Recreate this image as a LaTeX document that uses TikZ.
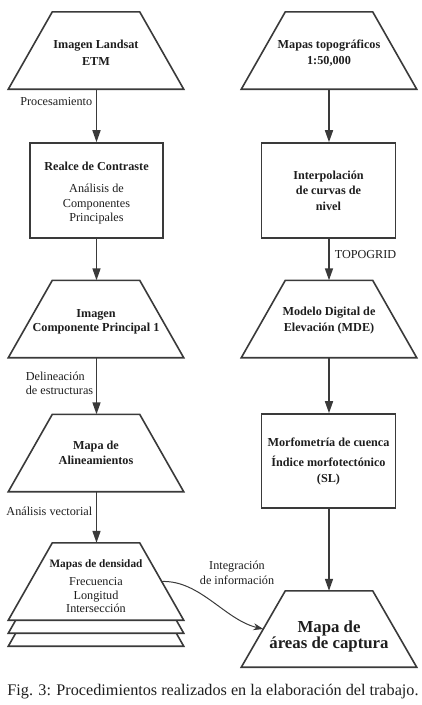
\documentclass[tikz,border=0pt]{standalone}
\usepackage{fontspec}
\setmainfont{Liberation Serif}
\usetikzlibrary{arrows.meta,calc,backgrounds}
\definecolor{ln}{HTML}{3A3A3A}
\definecolor{tx}{HTML}{1E1E1E}
\newcommand\nodefont{\fontsize{12.2pt}{15.5pt}\selectfont}
\newcommand\drawtrap[2][]{\draw[shapeline,#1] ($(#2.north west)+(44,0)$) -- ($(#2.north east)+(-44,0)$) -- (#2.south east) -- (#2.south west) -- cycle;}
\begin{document}
\begin{tikzpicture}[x=1pt,y=-1pt,
  shapeline/.style={draw=ln, line width=1.6pt, line join=miter, fill=white},
  trapnode/.style={minimum width=175pt, minimum height=77pt, inner sep=0pt},
  ttext/.style={inner sep=0pt, align=center, text=tx, font=\nodefont\bfseries},
  boxnode/.style={draw=ln, line width=1.6pt, minimum width=133pt, minimum height=95pt, inner sep=0pt, align=center, text=tx, font=\nodefont\bfseries},
  flow/.style={draw=ln, line width=1.6pt, -{Triangle[length=12pt,width=8pt]}},
  lbl/.style={text=tx, font=\nodefont, inner sep=0pt},
  curvelink/.style={draw=ln, line width=1pt, -{Stealth[length=10pt,width=7pt]}}
]
\useasboundingbox (0,0) rectangle (422,705);

% left column shapes
\node[trapnode] (l1) at (96,50.5) {};
\node[boxnode] (b1) at (96.5,190.5) {};
\node[trapnode] (l2) at (96,319) {};
\node[trapnode] (l3) at (96,453) {};
\node[trapnode] (d3) at (96,607.5) {};
\node[trapnode] (d2) at (96,594.5) {};
\node[trapnode] (d1) at (96,581.5) {};

% right column shapes
\node[trapnode] (r1) at (329,50.5) {};
\node[boxnode, minimum width=134pt] (b2) at (328.5,190.5) {Interpolaci\'on\\de curvas de\\nivel};
\node[trapnode] (r2) at (329,319) {};
\node[boxnode, minimum width=134pt, minimum height=94pt] (b3) at (328.5,461) {Morfometr\'ia de cuenca\\[5pt]\'Indice morfotect\'onico\\(SL)};
\node[trapnode, minimum height=76pt] (r3) at (329,629) {};

\begin{scope}[on background layer]
  \drawtrap{l1}
  \drawtrap{l2}
  \drawtrap{l3}
  \drawtrap{d3}
  \drawtrap{d2}
  \drawtrap{d1}
  \drawtrap{r1}
  \drawtrap{r2}
  \drawtrap{r3}
\end{scope}

% texts of the shapes
\node[ttext] (l1t) at (96,53) {Imagen Landsat\\[1.5pt]ETM};
\node[ttext, font=\fontsize{12.2pt}{14.5pt}\selectfont] (b1t) at (96.5,193.5) {\textbf{Realce de Contraste}\\[7.5pt]An\'alisis de\\Componentes\\Principales};
\node[ttext] (l2t) at (96,322) {Imagen\\[-2pt]Componente Principal 1};
\node[ttext] (l3t) at (96,453) {Mapa de\\Alineamientos};
\node[ttext, font=\fontsize{12.2pt}{13.5pt}\selectfont] (d1t) at (96,586.5) {{\fontsize{11.3pt}{13.5pt}\selectfont\bfseries Mapas de densidad}\\[4.5pt]Frecuencia\\Longitud\\Intersecci\'on};
\node[ttext] (r1t) at (329,53) {Mapas topogr\'aficos\\1:50,000};
\node[ttext] (r2t) at (329,320.5) {Modelo Digital de\\Elevaci\'on (MDE)};
\node[ttext, font=\fontsize{16.8pt}{16pt}\selectfont\bfseries] (r3t) at (329,636) {Mapa de\\\'areas de captura};

% connectors
\draw[flow] (l1.south -| b1.north) -- node[lbl, pos=0.24, left=3.5pt] {Procesamiento} (b1.north);
\draw[flow] (b1.south) -- (b1.south |- l2.north);
\draw[flow] (b1.south |- l2.south) -- node[lbl, pos=0.45, left=2.5pt, align=left, font=\fontsize{12.2pt}{14.5pt}\selectfont] {Delineaci\'on\\de estructuras} (b1.south |- l3.north);
\draw[flow] (b1.south |- l3.south) -- node[lbl, pos=0.38, left=3.5pt] {An\'alisis vectorial} (b1.south |- d1.north);

\draw[flow] (r1.south) -- (r1.south |- b2.north);
\draw[flow] (r1.south |- b2.south) -- node[lbl, pos=0.38, right=5pt] {TOPOGRID} (r1.south |- r2.north);
\draw[flow] (r2.south) -- (r2.south |- b3.north);
\draw[flow] (r2.south |- b3.south) -- (r3.north);

\coordinate (dside) at ($($(d1.north east)+(-44,0)$)!0.5!(d1.south east)$);
\coordinate (rside) at ($($(r3.north west)+(44,0)$)!0.5!(r3.south west)$);
\draw[curvelink] (dside) .. controls (200,580) and (225,620) .. (rside);
\node[lbl, align=center, font=\fontsize{12.2pt}{14.5pt}\selectfont] (intlbl) at (237,573) {Integraci\'on\\de informaci\'on};

% caption
\node[lbl, font=\fontsize{16.2pt}{18pt}\selectfont] (caption) at (213,692) {Fig. 3: Procedimientos realizados en la elaboraci\'on del trabajo.};
\end{tikzpicture}
\end{document}
